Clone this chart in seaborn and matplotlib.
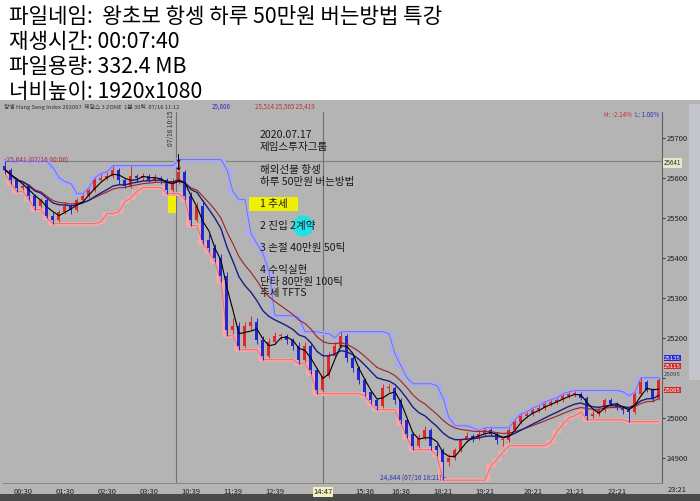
import numpy as np
import pandas as pd
import matplotlib
matplotlib.use("Agg")
import matplotlib.pyplot as plt
import seaborn as sns
from matplotlib.patches import Rectangle, Ellipse

# ==========================
# data
# ==========================

first_open = 25630

closes = [25620, 25595, 25575, 25580, 25555, 25530, 25545, 25505, 25495, 25515,
          25530, 25520, 25545, 25555, 25570, 25595, 25600, 25605, 25620, 25595,
          25580, 25605, 25600, 25605, 25595, 25600, 25595, 25570, 25590, 25615,
          25555, 25495, 25530, 25445, 25425, 25400, 25355, 25220, 25230, 25180,
          25230, 25240, 25195, 25155, 25190, 25205, 25205, 25195, 25180, 25145,
          25180, 25120, 25070, 25105, 25155, 25180, 25205, 25150, 25125, 25095,
          25065, 25045, 25030, 25075, 25075, 25045, 24995, 24960, 24930, 24950,
          24970, 24930, 24920, 24890, 24900, 24920, 24945, 24955, 24950, 24960,
          24970, 24960, 24945, 24945, 24970, 24990, 25005, 25010, 25020, 25025,
          25035, 25040, 25045, 25055, 25060, 25060, 25050, 25005, 25010, 25020,
          25045, 25035, 25025, 25020, 25015, 25060, 25090, 25070, 25050, 25095]

highs = [25641, 25625, 25600, 25590, 25585, 25560, 25550, 25550, 25515, 25520,
         25540, 25535, 25550, 25560, 25575, 25600, 25610, 25615, 25630, 25625,
         25600, 25630, 25610, 25612, 25610, 25608, 25605, 25600, 25598, 25645,
         25620, 25565, 25540, 25545, 25460, 25435, 25410, 25365, 25250, 25240,
         25240, 25255, 25250, 25205, 25200, 25215, 25212, 25210, 25200, 25190,
         25190, 25185, 25125, 25115, 25165, 25190, 25215, 25210, 25160, 25130,
         25100, 25070, 25050, 25085, 25085, 25080, 25050, 25000, 24965, 24960,
         24980, 24975, 24935, 24925, 24910, 24925, 24950, 24965, 24960, 24968,
         24975, 24975, 24965, 24952, 24975, 24995, 25010, 25015, 25025, 25030,
         25040, 25045, 25050, 25060, 25065, 25068, 25065, 25055, 25020, 25025,
         25050, 25050, 25040, 25030, 25025, 25065, 25100, 25095, 25075, 25100]

lows = [25610, 25585, 25565, 25570, 25545, 25520, 25525, 25500, 25485, 25490,
        25510, 25510, 25515, 25540, 25550, 25565, 25590, 25595, 25600, 25585,
        25575, 25575, 25590, 25595, 25588, 25590, 25585, 25560, 25565, 25585,
        25545, 25480, 25490, 25435, 25415, 25390, 25340, 25205, 25210, 25170,
        25175, 25220, 25185, 25145, 25150, 25185, 25195, 25185, 25170, 25135,
        25140, 25110, 25060, 25065, 25100, 25150, 25175, 25140, 25115, 25085,
        25055, 25035, 25020, 25025, 25065, 25035, 24985, 24950, 24920, 24925,
        24945, 24920, 24905, 24844, 24880, 24895, 24915, 24940, 24940, 24945,
        24955, 24955, 24935, 24930, 24940, 24965, 24985, 25000, 25005, 25015,
        25020, 25030, 25035, 25040, 25050, 25052, 25045, 24995, 25000, 25005,
        25015, 25030, 25020, 25010, 24990, 25010, 25055, 25065, 25040, 25045]

tick_idx = [3, 10, 17, 24, 31, 38, 45, 53, 60, 66, 73, 80, 88, 95, 102]
tick_labels = ["00:30", "01:30", "02:30", "03:30", "10:39", "11:39", "12:39", "14:47",
               "15:36", "16:36", "18:21", "19:21", "20:21", "21:21", "22:21"]
last_label = "23:21"

price_ticks = [24900, 25000, 25100, 25200, 25300, 25400, 25500, 25600, 25700]
hidden_tick = 25100   # covered by the current-price boxes

cross_idx = 28.5
cross_price = 25641
marker_idx = 53

header = ["파일네임:  왕초보 항셍 하루 50만원 버는방법 특강",
          "재생시간: 00:07:40",
          "파일용량: 332.4 MB",
          "너비높이: 1920x1080"]

notes = [("2020.07.17", 135), ("제임스투자그룹", 147),
         ("해외선물 항셍", 170), ("하루 50만원 버는방법", 182),
         ("1 추세", 204), ("2 진입 2계약", 226), ("3 손절 40만원 50틱", 248),
         ("4 수익실현", 270), ("단타 80만원 100틱", 282), ("추세 TFTS", 293)]

# ==========================
# frame
# ==========================

df = pd.DataFrame({"close": closes, "high": highs, "low": lows})
df["open"] = [first_open] + closes[:-1]
df["idx"] = np.arange(len(df))
df["ma_fast"] = df["close"].rolling(3, min_periods=1).mean()
df["ma_mid"] = df["close"].ewm(span=10).mean()
df["ma_slow"] = df["close"].ewm(span=15).mean()
df["upper"] = df["high"].rolling(8, min_periods=1).max()
df["lower"] = df["low"].rolling(8, min_periods=1).min()

sns.set_style("white")
plt.rcParams["font.family"] = ["Noto Sans CJK KR", "DejaVu Sans"]

W, H = 700, 501
fig = plt.figure(figsize=(7, 5.01), dpi=100, facecolor="white")


def fx(px):
    return px / W


def fy(py):
    return 1 - py / H


GRAY = "#b4b4b4"

# chart panel background (behind the axes)
fig.patches.append(Rectangle((0, 0), 1, fy(100), transform=fig.transFigure,
                             facecolor=GRAY, edgecolor="none", zorder=-2))
fig.patches.append(Rectangle((fx(689), fy(380)), fx(11), fy(104) - fy(380),
                             transform=fig.transFigure, facecolor="#c4c4cc",
                             edgecolor="none", zorder=-1))
fig.patches.append(Rectangle((0, 0), 1, fy(494), transform=fig.transFigure,
                             facecolor="#4a4a4a", edgecolor="none", zorder=-1))

ax = fig.add_axes([fx(3), fy(483), fx(662) - fx(3), fy(112) - fy(483)])
ax.set_facecolor(GRAY)
ax.set_xlim(-0.33, 109.5)
ax.set_ylim(24837, 25764)

# channel bands: thick pale step line with a thin edge line
sns.lineplot(data=df, x="idx", y="upper", color="#a8aaf2", lw=3.0,
             drawstyle="steps-mid", ax=ax, zorder=2)
sns.lineplot(data=df, x="idx", y="upper", color="#6e6ec8", lw=0.6, ax=ax, zorder=2)
sns.lineplot(data=df, x="idx", y="lower", color="#f2a8a8", lw=2.8,
             drawstyle="steps-mid", ax=ax, zorder=2)
sns.lineplot(data=df, x="idx", y="lower", color="#d86c6c", lw=0.6, ax=ax, zorder=2)

# candles
up = df["close"] >= df["open"]
cols = np.where(up, "#e02828", "#2626d0")
ax.vlines(df["idx"], df["low"], df["high"], colors=cols, lw=0.7, zorder=3)
body = (df["close"] - df["open"]).where(lambda s: s.abs() > 2, 3)
ax.bar(df["idx"], body, bottom=df["open"], width=0.5, color=cols,
       edgecolor="none", linewidth=0, zorder=3)

# moving averages
sns.lineplot(data=df, x="idx", y="ma_slow", color="#a02222", lw=0.8, ax=ax, zorder=4)
sns.lineplot(data=df, x="idx", y="ma_mid", color="#1c1c82", lw=1.0, ax=ax, zorder=4)
sns.lineplot(data=df, x="idx", y="ma_fast", color="black", lw=0.8, ax=ax, zorder=5)

# crosshair and marker lines
ax.axvline(cross_idx, color="#707070", lw=0.8, zorder=1)
ax.axvline(marker_idx, color="#707070", lw=0.8, zorder=1)
ax.axhline(cross_price, color="#808080", lw=0.8, zorder=1)

ax.set_xticks(tick_idx)
ax.set_xticklabels(tick_labels)
ax.yaxis.tick_right()
ax.set_yticks(price_ticks)
ax.set_yticklabels(["" if p == hidden_tick else str(p) for p in price_ticks])
ax.tick_params(axis="both", labelsize=5.5, colors="#202020", length=2, width=0.6,
               pad=1.5)
ax.tick_params(axis="y", direction="out")
ax.tick_params(axis="x", direction="out")
ax.set_xlabel("")
ax.set_ylabel("")
for side in ["top", "left"]:
    ax.spines[side].set_visible(False)
ax.spines["right"].set_color("#606060")
ax.spines["right"].set_linewidth(0.8)
ax.spines["bottom"].set_color("#808080")
ax.spines["bottom"].set_linewidth(0.6)
ax.get_xticklabels()[7].set_bbox(dict(facecolor="#f2f0c0", edgecolor="none", pad=0.5))
fig.text(fx(677), fy(490), last_label, fontsize=5.5, color="#202020",
         ha="center", va="center")

# header
for i, line in enumerate(header):
    fig.text(fx(9), fy(17 + 25 * i), line, fontsize=15.3, color="black",
             va="center", ha="left", fontweight=300)

# status strip
fig.text(fx(4), fy(107), "항셍 Hang Seng Index 202007  제임스 3 ZONE  1분 30틱  07/16 11:12",
         fontsize=4.2, color="#303030", va="center")
fig.text(fx(212), fy(107), "25,606", fontsize=4.5, color="#3030c0", va="center")
fig.text(fx(255), fy(107), "25,514 25,565 25,419", fontsize=4.5, color="#c03030",
         va="center")
fig.text(fx(604), fy(115), "H: -2.14%", fontsize=4.5, color="#c03030", va="center")
fig.text(fx(635), fy(115), "L: 1.00%", fontsize=4.5, color="#3030c0", va="center")

# chart labels
fig.text(fx(4), fy(160), "-25,641 (07/16 00:06)", fontsize=4.8, color="#b03030",
         va="center")
fig.text(fx(380), fy(478), "24,844 (07/16 18:21) –", fontsize=4.8, color="#3030b0",
         va="center")
fig.text(fx(171), fy(128), "07/16 10:15", fontsize=4.8, color="#303030",
         rotation=90, ha="center", va="center")
fig.text(fx(178), fy(159), "↓", fontsize=6.5, color="black", ha="center", va="center",
         fontweight="bold")
fig.text(fx(178), fy(167), "↓", fontsize=6.5, color="black", ha="center", va="center",
         fontweight="bold")
fig.patches.append(Rectangle((fx(168), fy(213)), fx(8), fy(196) - fy(213),
                             transform=fig.transFigure, facecolor="#f2f000",
                             edgecolor="none", zorder=6))
fig.text(fx(664), fy(163), "25641", fontsize=4.5, color="#303030", va="center",
         bbox=dict(facecolor="#e8e6c8", edgecolor="none", pad=0.4))

# right axis current value boxes
for txt, py, fc, tc in [("25135", 358, "#2a2ad0", "white"),
                        ("25115", 366, "#d02a2a", "white"),
                        ("25095", 374, GRAY, "#404040"),
                        ("25085", 390, "#d02a2a", "white")]:
    fig.text(fx(664), fy(py), txt, fontsize=4.3, color=tc, va="center",
             bbox=dict(facecolor=fc, edgecolor="none", pad=0.25))

# lecture notes
fig.patches.append(Rectangle((fx(249), fy(211)), fx(49), fy(197) - fy(211),
                             transform=fig.transFigure, facecolor="#f0f000",
                             edgecolor="none", zorder=6))
fig.patches.append(Ellipse((fx(303), fy(226)), fx(21), 21 / H,
                           transform=fig.transFigure, facecolor="#22e0e8",
                           edgecolor="none", zorder=6))
for txt, py in notes:
    fig.text(fx(260), fy(py), txt, fontsize=7.6, color="#1a1a1a", va="center",
             zorder=7)

fig.savefig("out.png", dpi=100, facecolor=fig.get_facecolor())
